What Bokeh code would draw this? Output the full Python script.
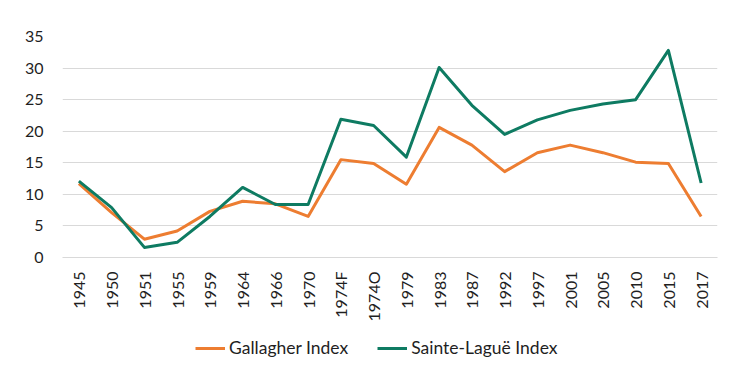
from bokeh.plotting import figure
from bokeh.models import FactorRange, Range1d, FixedTicker, Legend, LegendItem, ColumnDataSource
from bokeh.layouts import column
from bokeh.embed import file_html
from bokeh.resources import INLINE
import math

years = ["1945", "1950", "1951", "1955", "1959", "1964", "1966", "1970", "1974F", "1974O",
         "1979", "1983", "1987", "1992", "1997", "2001", "2005", "2010", "2015", "2017"]
gallagher = [11.7, 7.1, 2.9, 4.2, 7.3, 8.9, 8.5, 6.5, 15.5, 14.9,
             11.6, 20.6, 17.8, 13.6, 16.6, 17.8, 16.6, 15.1, 14.9, 6.5]
sainte_lague = [12.1, 7.9, 1.6, 2.4, 6.5, 11.1, 8.4, 8.4, 21.9, 20.9,
                15.9, 30.1, 24.1, 19.5, 21.8, 23.3, 24.3, 25.0, 32.8, 11.8]
y_ticks = [0, 5, 10, 15, 20, 25, 30, 35]
series_names = ["Gallagher Index", "Sainte-Laguë Index"]

FONT = "Lato"
TXT = "#1f1f1f"
ORANGE = "#ED7D31"
GREEN = "#0E7B62"

src = ColumnDataSource(dict(x=years, g=gallagher, s=sainte_lague))

p = figure(width=740, height=330, x_range=FactorRange(*years, range_padding=0),
           y_range=Range1d(0, 35), output_backend="svg", toolbar_location=None,
           min_border_left=62, min_border_right=23, min_border_top=36, min_border_bottom=73)
p.outline_line_color = None
p.background_fill_color = "white"
p.border_fill_color = "white"

p.line("x", "g", source=src, line_color=ORANGE, line_width=3, line_join="round")
p.line("x", "s", source=src, line_color=GREEN, line_width=3, line_join="round")

p.yaxis.ticker = FixedTicker(ticks=y_ticks)
p.yaxis.axis_line_color = None
p.yaxis.major_tick_line_color = None
p.yaxis.minor_tick_line_color = None
p.yaxis.major_tick_out = 0
p.yaxis.major_tick_in = 0
p.yaxis.major_label_standoff = 19
p.yaxis.major_label_text_font = FONT
p.yaxis.major_label_text_font_size = "16px"
p.yaxis.major_label_text_color = TXT

p.xaxis.axis_line_color = "#D9D9D9"
p.xaxis.major_tick_line_color = None
p.xaxis.minor_tick_line_color = None
p.xaxis.major_tick_out = 0
p.xaxis.major_tick_in = 0
p.xaxis.major_label_standoff = 14
p.xaxis.major_label_orientation = math.pi / 2
p.xaxis.major_label_text_font = FONT
p.xaxis.major_label_text_font_size = "16px"
p.xaxis.major_label_text_color = TXT

p.xgrid.grid_line_color = None
p.ygrid.grid_line_color = "#D9D9D9"
p.ygrid.grid_line_width = 1

# legend strip (its renderers hold an off-range point only so the legend swatches draw)
p2 = figure(width=740, height=54, x_range=Range1d(0, 1), y_range=Range1d(0, 1),
            output_backend="svg", toolbar_location=None,
            min_border_left=0, min_border_right=0, min_border_top=0, min_border_bottom=0)
p2.axis.visible = False
p2.grid.visible = False
p2.outline_line_color = None
p2.border_fill_color = "white"
l1 = p2.line(x=[5, 6], y=[5, 6], line_color=ORANGE, line_width=3)
l2 = p2.line(x=[5, 6], y=[5, 6], line_color=GREEN, line_width=3)

legend = Legend(items=[LegendItem(label=series_names[0], renderers=[l1]),
                       LegendItem(label=series_names[1], renderers=[l2])],
                orientation="horizontal", location=(133, 26),
                glyph_width=30, glyph_height=20, label_standoff=4, spacing=29,
                padding=0, margin=0, border_line_color=None, background_fill_alpha=0,
                label_text_font=FONT, label_text_font_size="17.5px", label_text_color=TXT)
p2.add_layout(legend, "center")

layout = column(p, p2, spacing=0)
open("out.html", "w").write(file_html(layout, INLINE))
